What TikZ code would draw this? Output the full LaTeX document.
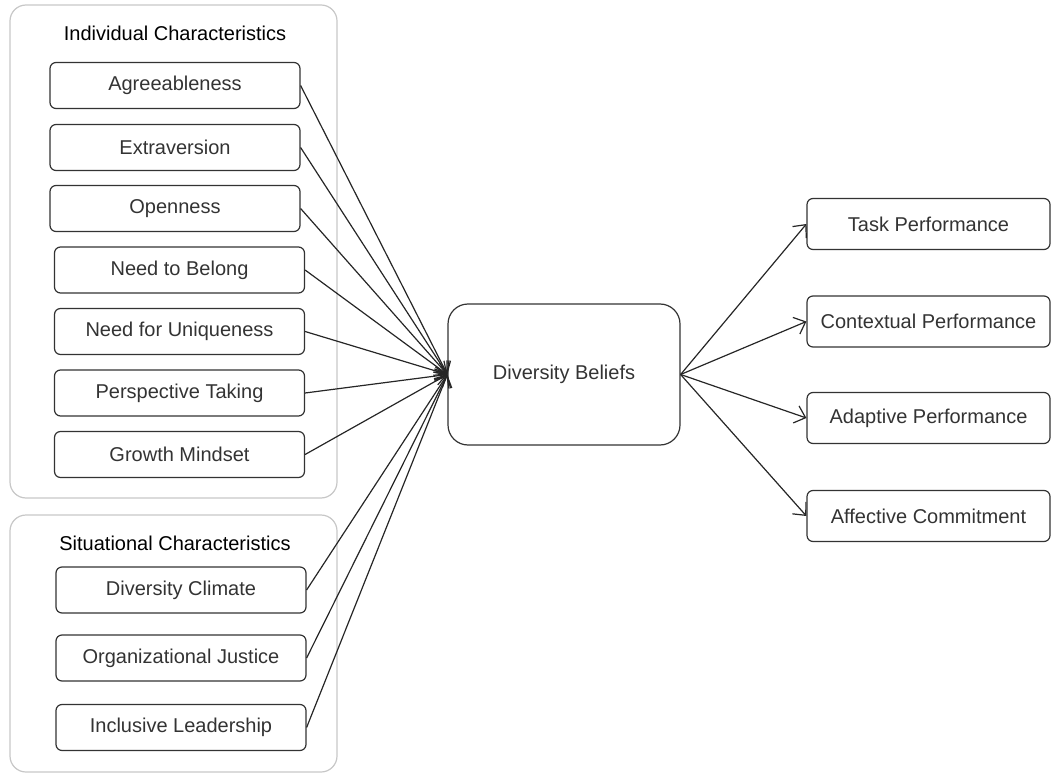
\documentclass[tikz,border=0pt]{standalone}
\usepackage{fontspec}
\setmainfont{Liberation Sans}
\usetikzlibrary{arrows.meta}
\tikzset{>={Straight Barb[length=5pt,width=9pt]}}
\tikzset{
    grp/.style={draw=black!22, line width=0.6pt, rounded corners=8pt},
    grptitle/.style={font=\fontsize{10}{12}\selectfont, text=black},
    trait/.style={draw=black!80, line width=0.6pt, rounded corners=3pt, inner sep=0pt,
        minimum width=125pt, minimum height=23pt, font=\fontsize{10}{12}\selectfont, text=black!80},
    outcome/.style={trait, minimum width=121.5pt, minimum height=25.5pt},
    belief/.style={trait, rounded corners=10pt, minimum width=116pt, minimum height=70.5pt},
    link/.style={->, line width=0.6pt, black!85}
}

\begin{document}
\begin{tikzpicture}[x=0.5pt, y=-0.5pt]
    \useasboundingbox (0,0) rectangle (1054,775);

    % group frames
    \draw [grp] (10,5) rectangle (337,498);
    \draw [grp] (10,515) rectangle (337,772);
    \node [grptitle] (indtitle) at (175,33) {Individual Characteristics};
    \node [grptitle] (sittitle) at (175,543) {Situational Characteristics};

    % antecedents
    \node [trait] (agr) at (175,85.5) {Agreeableness};
    \node [trait] (ext) at (175,147.5) {Extraversion};
    \node [trait] (opn) at (175,208.5) {Openness};
    \node [trait] (blg) at (179.5,270) {Need to Belong};
    \node [trait] (unq) at (179.5,331.5) {Need for Uniqueness};
    \node [trait] (psp) at (179.5,393) {Perspective Taking};
    \node [trait] (grw) at (179.5,454.5) {Growth Mindset};
    \node [trait] (clm) at (181,590) {Diversity Climate};
    \node [trait] (jst) at (181,658) {Organizational Justice};
    \node [trait] (ldr) at (181,727.5) {Inclusive Leadership};

    % mediator
    \node [belief] (div) at (564,374.5) {Diversity Beliefs};

    % outcomes
    \node [outcome] (tsk) at (928.5,224) {Task Performance};
    \node [outcome] (ctx) at (928.5,321.5) {Contextual Performance};
    \node [outcome] (adp) at (928.5,418) {Adaptive Performance};
    \node [outcome] (aff) at (928.5,516) {Affective Commitment};

    \foreach \n in {agr,ext,opn,blg,unq,psp,grw,clm,jst,ldr}
        \draw [link] (\n.east) -- (div.west);
    \foreach \n in {tsk,ctx,adp,aff}
        \draw [link] (div.east) -- (\n.west);

\end{tikzpicture}
\end{document}
